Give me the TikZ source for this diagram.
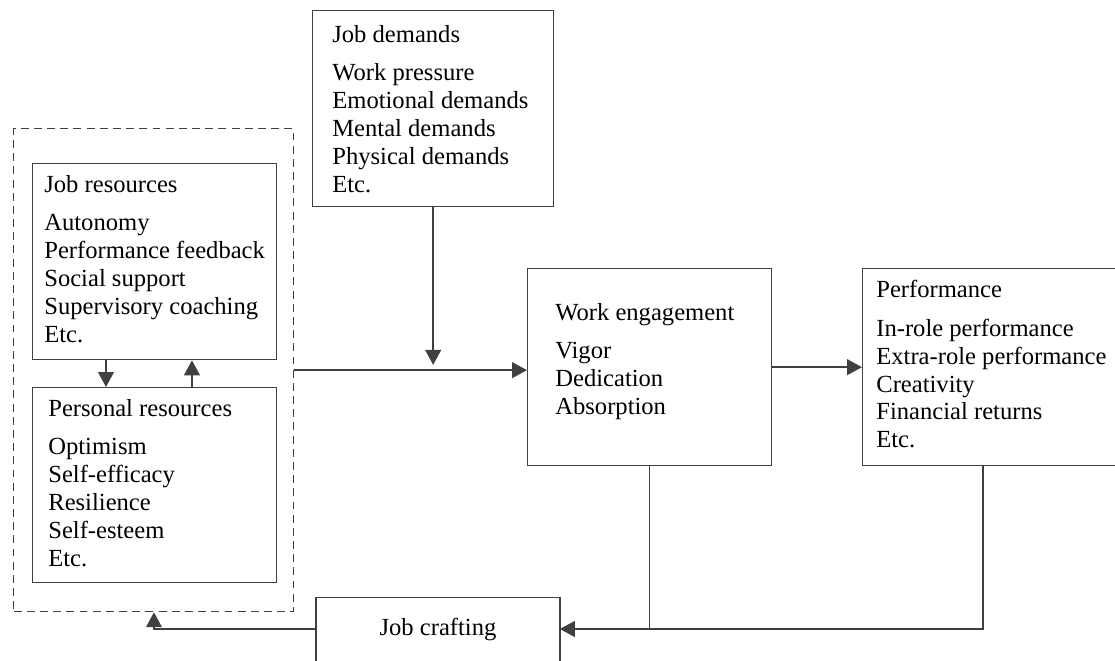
\documentclass[tikz,border=0pt]{standalone}
\usepackage{fontspec}
\setmainfont{Liberation Serif}
\usetikzlibrary{arrows.meta, positioning, calc}

\begin{document}
\begin{tikzpicture}[x=0.02cm, y=-0.02cm,
    box/.style={draw=black!75, line width=0.8pt, inner sep=0, anchor=north west},
    txt/.style={anchor=north west, align=left, inner sep=0, font=\fontsize{14}{15.9}\selectfont},
    conn/.style={draw=black!75, line width=0.8pt},
    arr/.style={conn, -{Triangle[length=8.5pt, width=9pt]}}]
    \useasboundingbox (0,0) rectangle (1115,661);
    \clip (0,0) rectangle (1115,661);

    % boxes
    \node[box, dash pattern=on 4.5pt off 3pt, minimum width=5.6cm, minimum height=9.66cm] (res) at (13,128) {};
    \node[box, minimum width=4.88cm, minimum height=3.92cm] (jr) at (32,163) {};
    \node[box, minimum width=4.88cm, minimum height=3.9cm] (pr) at (32,387) {};
    \node[box, minimum width=4.82cm, minimum height=3.92cm] (jd) at (312,10) {};
    \node[box, minimum width=4.88cm, minimum height=3.94cm] (we) at (527,268) {};
    \node[box, minimum width=5.5cm, minimum height=3.94cm] (perf) at (862,268) {};
    \node[inner sep=0, minimum width=4.86cm, minimum height=1.24cm,
          font=\fontsize{14}{15.9}\selectfont] (jc) at (438,629) {Job crafting};
    \draw[conn] ([yshift=-5pt]jc.south west) -- (jc.north west) -- (jc.north east) -- ([yshift=-5pt]jc.south east);

    % texts
    \node[txt] (jrtext) at ([shift={(12,12)}]jr.north west)
        {Job resources\\[6pt] Autonomy\\ Performance feedback\\ Social support\\ Supervisory coaching\\ Etc.};
    \node[txt] (prtext) at ([shift={(16,12)}]pr.north west)
        {Personal resources\\[6pt] Optimism\\ Self-efficacy\\ Resilience\\ Self-esteem\\ Etc.};
    \node[txt] (jdtext) at ([shift={(20,15)}]jd.north west)
        {Job demands\\[6pt] Work pressure\\ Emotional demands\\ Mental demands\\ Physical demands\\ Etc.};
    \node[txt] (wetext) at ([shift={(28,35)}]we.north west)
        {Work engagement\\[6pt] Vigor\\ Dedication\\ Absorption};
    \node[txt] (perftext) at ([shift={(14,12)}]perf.north west)
        {Performance\\[6pt] In-role performance\\ Extra-role performance\\ Creativity\\ Financial returns\\ Etc.};

    % connectors
    \draw[arr] ([xshift=1.48cm]jr.south west) -- ([xshift=1.48cm]pr.north west);
    \draw[arr] ([xshift=3.2cm]pr.north west) -- ([xshift=3.2cm]jr.south west);
    \draw[arr] (res.east) -- (res.east -| we.west);
    \draw[arr] (jd.south) -- ([yshift=3pt]jd.south |- res.east);
    \draw[arr] (we.east) -- (perf.west);
    \draw[arr] (we.south) |- (jc.east);
    \draw[conn] ([xshift=2.42cm]perf.south west) |- (we.south |- jc.east);
    \draw[arr] (jc.west) -| ([xshift=2.82cm]res.south west);
\end{tikzpicture}
\end{document}
